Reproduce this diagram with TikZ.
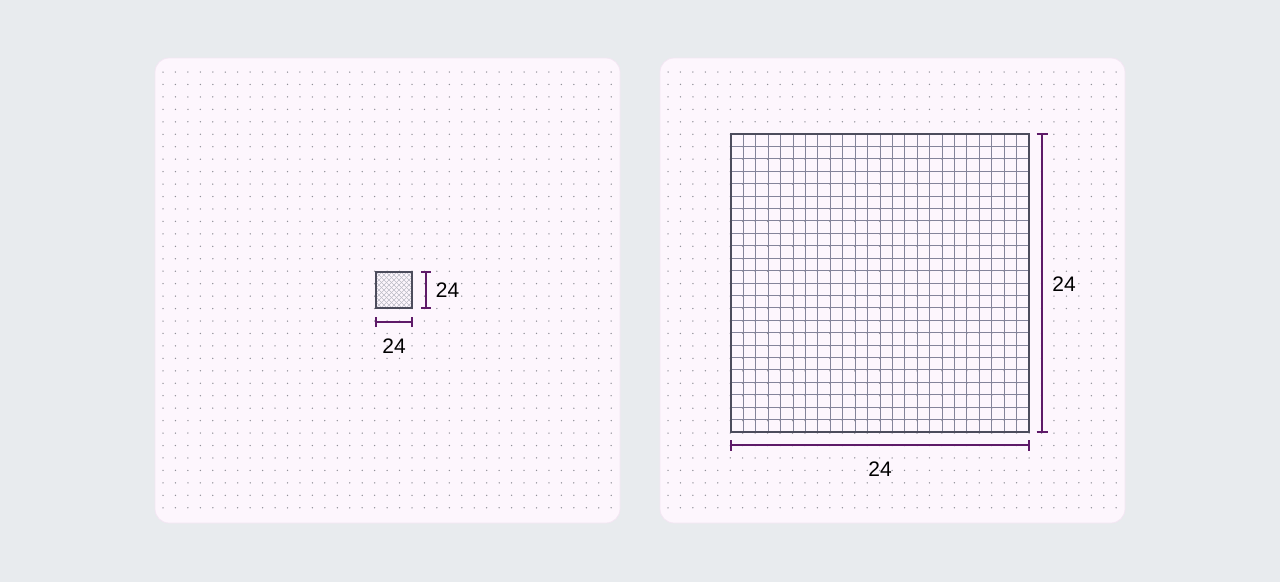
\documentclass[tikz,border=0pt]{standalone}
\usepackage{fontspec}
\setmainfont{Liberation Sans}
\definecolor{bgc}{HTML}{E8EBEE}
\definecolor{panelc}{HTML}{FDF6FD}
\definecolor{panelb}{HTML}{F3E6F3}
\definecolor{dotc}{HTML}{909098}
\definecolor{dimc}{HTML}{5E1A68}
\definecolor{gridc}{HTML}{84849A}
\definecolor{gridb}{HTML}{4C4C5C}
\definecolor{hatchc}{HTML}{BCBCC6}
\tikzset{
  panel/.style={fill=panelc,draw=panelb,line width=0.8pt,rounded corners=14pt},
  dimline/.style={draw=dimc,line width=1.6pt},
  dimlabel/.style={font=\fontsize{21}{25}\selectfont,text=black,inner sep=0pt},
}
\begin{document}
\begin{tikzpicture}[x=1pt,y=-1pt]
\useasboundingbox (0,0) rectangle (1280,582);
\fill[bgc] (0,0) rectangle (1280,582);
% panels
\foreach \px in {155,660}{
  \path[panel] (\px,58) rectangle ++(465,465);
  \foreach \i in {0,...,36}{
    \foreach \j in {0,...,35}{
      \fill[dotc] ({\px+8+\i*12.45},{72+\j*12.45}) circle (0.75);
    }
  }
}
% small square
\begin{scope}
  \clip (376,272) rectangle (412,308);
  \fill[panelc] (376,272) rectangle (412,308);
  \foreach \k in {-40,-35,...,40}{
    \draw[hatchc,line width=0.45pt] ({376+\k},272) -- ({412+\k},308);
    \draw[hatchc,line width=0.45pt] ({412+\k},272) -- ({376+\k},308);
  }
\end{scope}
\draw[gridb,line width=1.3pt] (376,272) rectangle (412,308);
% small dims
\coordinate (sv1) at (426,272);
\coordinate (sv2) at (426,308);
\draw[dimline] (sv1) -- (sv2);
\draw[dimline] ([xshift=-5]sv1) -- ([xshift=5]sv1);
\draw[dimline] ([xshift=-5]sv2) -- ([xshift=5]sv2);
\coordinate (sh1) at (376,322);
\coordinate (sh2) at (412,322);
\draw[dimline] (sh1) -- (sh2);
\draw[dimline] ([yshift=-5]sh1) -- ([yshift=5]sh1);
\draw[dimline] ([yshift=-5]sh2) -- ([yshift=5]sh2);
\node[dimlabel] (sl1) at (447.5,290) {24};
\node[dimlabel] (sl2) at (394,346) {24};
% large grid
\foreach \k in {1,...,23}{
  \draw[gridc,line width=1pt] ({731+\k*298/24},134) -- ({731+\k*298/24},432);
  \draw[gridc,line width=1pt] (731,{134+\k*298/24}) -- (1029,{134+\k*298/24});
}
\draw[gridb,line width=1.3pt] (731,134) rectangle (1029,432);
% large dims
\coordinate (lv1) at (1042,134);
\coordinate (lv2) at (1042,432);
\draw[dimline] (lv1) -- (lv2);
\draw[dimline] ([xshift=-5.5]lv1) -- ([xshift=5.5]lv1);
\draw[dimline] ([xshift=-5.5]lv2) -- ([xshift=5.5]lv2);
\coordinate (lh1) at (731,445);
\coordinate (lh2) at (1029,445);
\draw[dimline] (lh1) -- (lh2);
\draw[dimline] ([yshift=-5.5]lh1) -- ([yshift=5.5]lh1);
\draw[dimline] ([yshift=-5.5]lh2) -- ([yshift=5.5]lh2);
\node[dimlabel] (ll1) at (1064,284) {24};
\node[dimlabel] (ll2) at (880,469) {24};
\end{tikzpicture}
\end{document}
